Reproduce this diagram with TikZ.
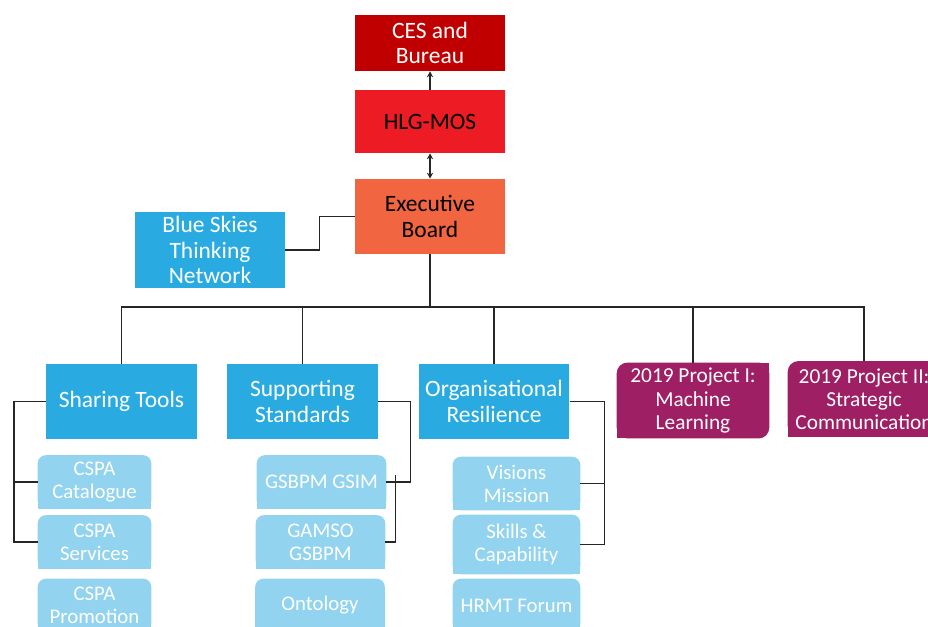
\documentclass[tikz,border=0pt]{standalone}
\usepackage{fontspec}
\setmainfont{Carlito}
\usetikzlibrary{positioning,backgrounds,arrows.meta}

\definecolor{cesred}{RGB}{192,0,0}
\definecolor{hlgred}{RGB}{237,28,36}
\definecolor{execorange}{RGB}{242,101,65}
\definecolor{groupblue}{RGB}{41,171,226}
\definecolor{taskblue}{RGB}{146,211,240}
\definecolor{projpurple}{RGB}{158,31,99}

\begin{document}
\begin{tikzpicture}[x=0.75pt,y=-0.75pt,>={Stealth[length=4.5pt,width=4.5pt]}]
    \tikzstyle{box}=[inner sep=0pt,align=center,font=\fontsize{17.6}{19}\selectfont]
    \tikzstyle{top box}=[box,minimum width=112.5pt]
    \tikzstyle{group}=[box,fill=groupblue,text=white,minimum width=113pt,minimum height=56.25pt]
    \tikzstyle{project}=[box,text=white,minimum width=114pt,minimum height=56.5pt,font=\fontsize{16}{17.3}\selectfont]
    \tikzstyle{task}=[box,text=white,minimum height=39.75pt,font=\fontsize{15.6}{17.3}\selectfont]
    \tikzstyle{link}=[draw=black!85,line width=0.9pt]

    \useasboundingbox (0,0) rectangle (928,627);
    \clip (0,0) rectangle (928,627);

    % Draw the governing bodies
    \node[top box,fill=cesred,text=white,minimum height=42pt] (ces) at (430,43) {CES and\\Bureau};
    \node[top box,fill=hlgred,minimum height=47.25pt] (hlg) at (430,121.5) {HLG-MOS};
    \node[top box,fill=execorange,minimum height=56.25pt] (exec) at (430,216.5) {Executive\\Board};
    \node[top box,fill=groupblue,text=white,minimum height=57pt] (blue) at (210,250) {Blue Skies\\Thinking\\Network};

    % Draw the groups
    \node[group] (share) at (121.5,401.5) {Sharing Tools};
    \node[group] (supp) at (302.5,401.5) {Supporting\\Standards};
    \node[group] (org) at (494,401.5) {Organisational\\Resilience};

    % Draw the projects
    \node[project] (proj1) at (693,400.5) {2019 Project I:\\Machine\\Learning};
    \node[project] (proj2) at (864,399) {2019 Project II:\\Strategic\\Communication};

    % Draw the tasks below each group
    \node[task,minimum width=84.75pt] (cat) at (94.5,482) {CSPA\\Catalogue};
    \node[task,minimum width=84.75pt] (ser) at (94.5,542) {CSPA\\Services};
    \node[task,minimum width=84.75pt] (pro) at (94.5,605.5) {CSPA\\Promotion};
    \node[task,minimum width=96.75pt] (gsim) at (321.5,482) {GSBPM GSIM};
    \node[task,minimum width=96.75pt] (gamso) at (320.5,542) {GAMSO\\GSBPM};
    \node[task,minimum width=96.75pt] (onto) at (320,605.5) {Ontology};
    \node[task,minimum width=95.25pt] (vis) at (516.5,483.5) {Visions\\Mission};
    \node[task,minimum width=95.25pt,minimum height=44.25pt] (ski) at (516.5,544.5) {Skills \&\\Capability};
    \node[task,minimum width=95.25pt] (hrmt) at (516.5,605.5) {HRMT Forum};

    % Fill the shapes with rounded corners
    \begin{scope}[on background layer]
      \foreach \n in {cat,ser,pro,gsim,gamso,onto,vis,ski,hrmt} {
        \fill[taskblue,rounded corners=6pt] (\n.south west) rectangle (\n.north east);
        \fill[taskblue] (\n.south west) rectangle (\n.east);
      }
      \foreach \n in {proj1,proj2} {
        \fill[projpurple,rounded corners=8pt] (\n.south west) rectangle (\n.north east);
        \fill[projpurple] (\n.south west) rectangle (\n.center);
        \fill[projpurple] (\n.north) rectangle (\n.east);
      }
    \end{scope}

    % Connect the governing bodies
    \draw[link,->] (hlg) -- (ces);
    \draw[link,<->] (hlg) -- (exec);
    \draw[link] (exec.west) -- ++(-35,0) |- (blue.east);

    % Connect the board with every group and project
    \coordinate (bus) at (430,307);
    \foreach \n in {share,supp,org,proj1,proj2}
      \draw[link] (exec.south) -- (bus) -| (\n.north);

    % Connect every group with its tasks
    \draw[link] (share.west) -- ++(-32,0) |- (ser.west);
    \draw[link] (cat.west) -- ++(-24,0);
    \draw[link] (supp.east) -- ++(32,0) |- (gsim.east);
    \draw[link] (gamso.east) -- ++(10,0) -- ++(0,-67);
    \draw[link] (org.east) -- ++(35,0) |- (ski.east);
    \draw[link] (vis.east) -- ++(24,0);
\end{tikzpicture}
\end{document}
